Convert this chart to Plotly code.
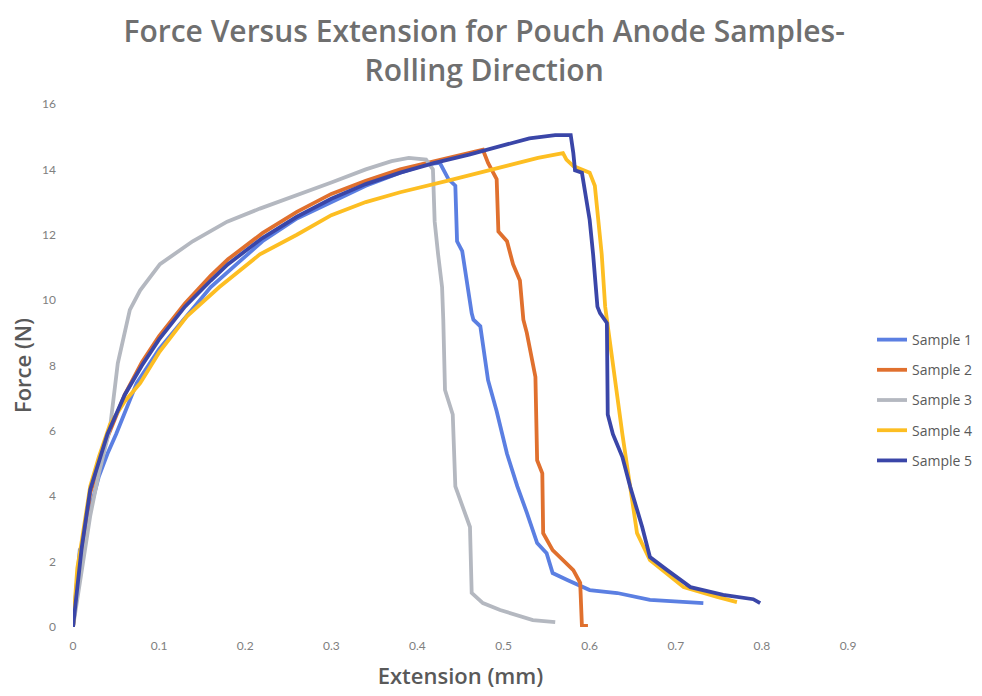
import plotly.graph_objects as go

# Tensile test traces: extension (mm) vs force (N), one pair of lists per sample
s1_x = [0, 0.005, 0.008, 0.01, 0.02, 0.03, 0.04, 0.05, 0.074, 0.10, 0.132, 0.16, 0.19, 0.22, 0.26,
        0.30, 0.34, 0.38, 0.41, 0.426, 0.436, 0.444, 0.446, 0.452, 0.458, 0.463, 0.465, 0.473,
        0.482, 0.492, 0.504, 0.516, 0.527, 0.539, 0.55, 0.557, 0.574, 0.600, 0.632, 0.670, 0.732]
s1_y = [0, 1.6, 2.4, 2.3, 3.6, 4.6, 5.3, 5.9, 7.46, 8.5, 9.5, 10.4, 11.1, 11.8, 12.5,
        13.0, 13.5, 13.9, 14.15, 14.2, 13.7, 13.5, 11.8, 11.5, 10.4, 9.6, 9.4, 9.2,
        7.55, 6.6, 5.3, 4.3, 3.5, 2.57, 2.26, 1.65, 1.44, 1.13, 1.04, 0.83, 0.73]

s2_x = [0, 0.005, 0.01, 0.02, 0.03, 0.04, 0.06, 0.08, 0.10, 0.13, 0.16, 0.18, 0.22, 0.26, 0.30,
        0.34, 0.38, 0.42, 0.46, 0.476, 0.482, 0.492, 0.494, 0.504, 0.511, 0.519, 0.523, 0.527,
        0.537, 0.539, 0.545, 0.546, 0.557, 0.581, 0.589, 0.591, 0.598]
s2_y = [0, 1.2, 2.3, 4.1, 5.0, 5.8, 7.1, 8.1, 8.9, 9.9, 10.75, 11.25, 12.05, 12.7, 13.25,
        13.65, 14.0, 14.25, 14.5, 14.6, 14.2, 13.7, 12.1, 11.8, 11.1, 10.6, 9.4, 9.0,
        7.65, 5.1, 4.7, 2.87, 2.35, 1.74, 1.35, 0.03, 0.03]

s3_x = [0, 0.01, 0.02, 0.03, 0.043, 0.052, 0.066, 0.078, 0.101, 0.139, 0.179, 0.217, 0.26, 0.30,
        0.34, 0.37, 0.39, 0.41, 0.418, 0.420, 0.424, 0.4286, 0.43, 0.432, 0.441, 0.444, 0.461,
        0.463, 0.476, 0.496, 0.534, 0.560]
s3_y = [0, 1.8, 3.4, 4.7, 6.1, 8.07, 9.7, 10.3, 11.1, 11.8, 12.4, 12.8, 13.2, 13.6,
        14.0, 14.25, 14.35, 14.3, 14.0, 12.4, 11.4, 10.4, 9.4, 7.25, 6.5, 4.3, 3.06,
        1.04, 0.73, 0.52, 0.21, 0.15]

s4_x = [0, 0.005, 0.01, 0.02, 0.03, 0.043, 0.06, 0.078, 0.10, 0.132, 0.17, 0.217, 0.26, 0.30,
        0.34, 0.38, 0.438, 0.496, 0.54, 0.569, 0.573, 0.581, 0.600, 0.606, 0.61, 0.614, 0.618,
        0.627, 0.638, 0.647, 0.655, 0.67, 0.709, 0.748, 0.771]
s4_y = [0, 1.8, 2.6, 4.3, 5.2, 6.2, 6.9, 7.46, 8.4, 9.5, 10.4, 11.4, 12.0, 12.6,
        13.0, 13.3, 13.67, 14.07, 14.35, 14.5, 14.3, 14.1, 13.9, 13.5, 12.4, 11.4, 9.8,
        7.95, 5.9, 4.3, 2.87, 2.05, 1.22, 0.92, 0.76]

s5_x = [0, 0.005, 0.01, 0.02, 0.03, 0.04, 0.06, 0.08, 0.10, 0.13, 0.16, 0.18, 0.22, 0.26, 0.30,
        0.34, 0.38, 0.42, 0.46, 0.50, 0.53, 0.56, 0.578, 0.581, 0.583, 0.591, 0.595, 0.600,
        0.604, 0.609, 0.612, 0.620, 0.621, 0.627, 0.638, 0.647, 0.661, 0.670, 0.690, 0.717,
        0.755, 0.778, 0.790, 0.798]
s5_y = [0, 1.3, 2.4, 4.2, 5.1, 5.9, 7.1, 8.0, 8.8, 9.8, 10.6, 11.1, 11.9, 12.55, 13.1,
        13.55, 13.9, 14.2, 14.45, 14.75, 14.95, 15.05, 15.05, 14.5, 13.97, 13.9, 13.3, 12.45,
        11.4, 9.8, 9.6, 9.3, 6.5, 5.9, 5.2, 4.3, 3.06, 2.14, 1.74, 1.22,
        0.98, 0.89, 0.85, 0.73]

names = ["Sample 1", "Sample 2", "Sample 3", "Sample 4", "Sample 5"]
colors = ["#5B7FE2", "#E0702E", "#B4B8C0", "#FDBE22", "#3A46A8"]
series = [(s1_x, s1_y), (s2_x, s2_y), (s3_x, s3_y), (s4_x, s4_y), (s5_x, s5_y)]

x_ticks = [0, 0.1, 0.2, 0.3, 0.4, 0.5, 0.6, 0.7, 0.8, 0.9]
y_ticks = [0, 2, 4, 6, 8, 10, 12, 14, 16]

fig = go.Figure()
for name, color, (xs, ys) in zip(names, colors, series):
    fig.add_trace(go.Scatter(
        x=xs, y=ys, mode="lines", name=name, legendgroup=name,
        line=dict(color=color, width=3.8, shape="linear"),
    ))

axis_font = dict(family="Open Sans, sans-serif", size=22, color="#595959", weight=600)
tick_font = dict(family="Lato, sans-serif", size=12, color="#808080")

fig.update_layout(
    width=982, height=696,
    margin=dict(l=73, r=134, t=104, b=69, autoexpand=False),
    paper_bgcolor="white", plot_bgcolor="white",
    title=dict(
        text="Force Versus Extension for Pouch Anode Samples-<br>Rolling Direction",
        font=dict(family="Open Sans, sans-serif", size=30, color="#6F6F6F", weight=600),
        x=0.493, xref="container", xanchor="center",
        y=1 - 42 / 696, yref="container", yanchor="top",
    ),
    xaxis=dict(
        range=[0, 0.9], tickvals=x_ticks, ticktext=[str(v) for v in x_ticks],
        showgrid=False, zeroline=False, showline=False, ticks="",
        tickfont=tick_font, ticklabelstandoff=10,
        title=dict(text="Extension (mm)", font=axis_font, standoff=16),
    ),
    yaxis=dict(
        range=[0, 16], tickvals=y_ticks,
        showgrid=False, zeroline=False, showline=False, ticks="",
        tickfont=tick_font, ticklabelstandoff=16,
        title=dict(text="Force (N)", font=axis_font, standoff=4),
    ),
    legend=dict(
        x=1.031, xanchor="left", y=0.434, yanchor="middle",
        font=dict(family="Open Sans, sans-serif", size=14, color="#595959"),
        tracegroupgap=9, itemwidth=30, bgcolor="rgba(0,0,0,0)",
    ),
    showlegend=True,
)

fig.write_html("out.html")
